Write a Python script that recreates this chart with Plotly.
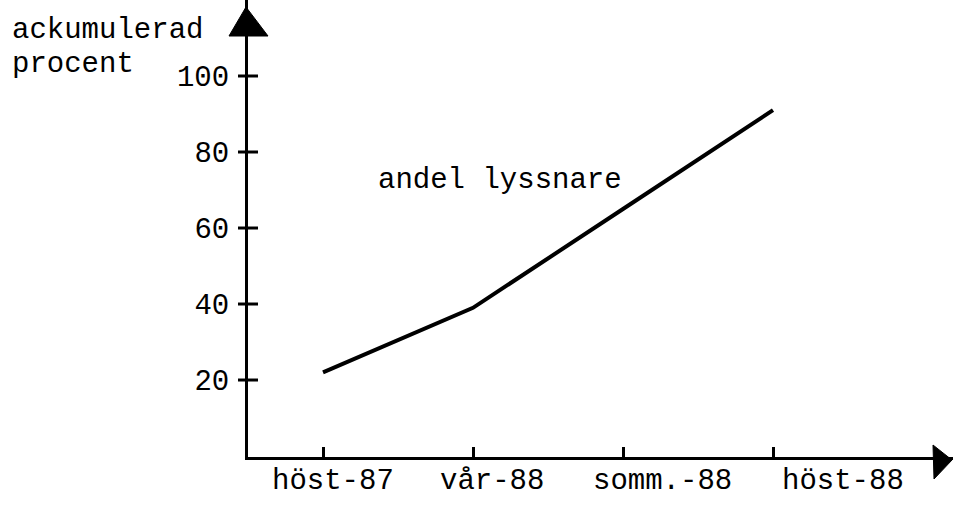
import plotly.graph_objects as go

categories = ["höst-87", "vår-88", "somm.-88", "höst-88"]
andel_lyssnare = [22, 39, 65, 91]
y_tickvals = [20, 40, 60, 80, 100]
y_ticktext = ["20", "40", "60", "80", "100"]
y_title_lines = ["ackumulerad", "procent"]
series_label = "andel lyssnare"

# layout styling: horizontal pixel shift of each typed category label
label_xshift_px = [10, 19, 39, 70]

FONT = "Liberation Mono"
FS = 29
BLACK = "black"

fig = go.Figure()
fig.add_trace(go.Scatter(
    x=categories, y=andel_lyssnare, mode="lines",
    line=dict(color=BLACK, width=4),
    showlegend=False, hoverinfo="skip",
))

PLOT_H = 457
xr = [-0.5, 4.2]
yr = [-0.26, 120]

fig.update_layout(
    width=956, height=505,
    margin=dict(l=248, r=3, t=0, b=505 - PLOT_H),
    paper_bgcolor="white", plot_bgcolor="white",
    font=dict(family=FONT, size=FS, color=BLACK),
    xaxis=dict(
        type="category", range=xr, showgrid=False, zeroline=False,
        showline=True, linecolor=BLACK, linewidth=3,
        ticks="inside", ticklen=10, tickwidth=3, tickcolor=BLACK,
        showticklabels=False,
    ),
    yaxis=dict(
        range=yr, showgrid=False, zeroline=False,
        showline=True, linecolor=BLACK, linewidth=3,
        tickmode="array", tickvals=y_tickvals, ticktext=y_ticktext,
        ticks="", ticklabelstandoff=10,
        tickfont=dict(family=FONT, size=FS, color=BLACK),
    ),
)

# crossing y ticks (both sides of the axis)
for v in y_tickvals:
    fig.add_shape(type="line", xref="paper", yref="y",
                  xsizemode="pixel", xanchor=0, x0=-10, x1=10, y0=v, y1=v,
                  line=dict(color=BLACK, width=3))

# category labels, typed slightly to the right of their ticks
for cat, dx in zip(categories, label_xshift_px):
    fig.add_annotation(text=cat, xref="x", yref="paper", x=cat, y=0,
                       xanchor="center", yanchor="middle", xshift=dx, yshift=-24,
                       showarrow=False, font=dict(family=FONT, size=FS, color=BLACK))

# axis arrowheads (pixel offsets from the axis ends)
fig.add_shape(type="path", xref="paper", yref="paper",
              xsizemode="pixel", ysizemode="pixel", xanchor=0, yanchor=1,
              path="M -2,-7 L -19,-36 L 20,-36 Z",
              fillcolor=BLACK, line=dict(color=BLACK, width=1))
fig.add_shape(type="path", xref="paper", yref="paper",
              xsizemode="pixel", ysizemode="pixel", xanchor=1, yanchor=0,
              path="M -1,-3 L -20,12 L -19,-22 Z",
              fillcolor=BLACK, line=dict(color=BLACK, width=1))

# y-axis title (two lines, upper left)
fig.add_annotation(text=y_title_lines[0], xref="paper", yref="paper",
                   x=(10 - 248) / 705, y=1 - 30 / PLOT_H, xanchor="left", yanchor="middle",
                   showarrow=False, font=dict(family=FONT, size=FS, color=BLACK))
fig.add_annotation(text=y_title_lines[1], xref="paper", yref="paper",
                   x=(10 - 248) / 705, y=1 - 64 / PLOT_H, xanchor="left", yanchor="middle",
                   showarrow=False, font=dict(family=FONT, size=FS, color=BLACK))

# series label
fig.add_annotation(text=series_label, xref="paper", yref="paper",
                   x=(500 - 248) / 705, y=1 - 180 / PLOT_H, xanchor="center", yanchor="middle",
                   showarrow=False, font=dict(family=FONT, size=FS, color=BLACK))

fig.write_html("out.html", config={"displayModeBar": False},
               post_script="document.body.style.margin='0';")
